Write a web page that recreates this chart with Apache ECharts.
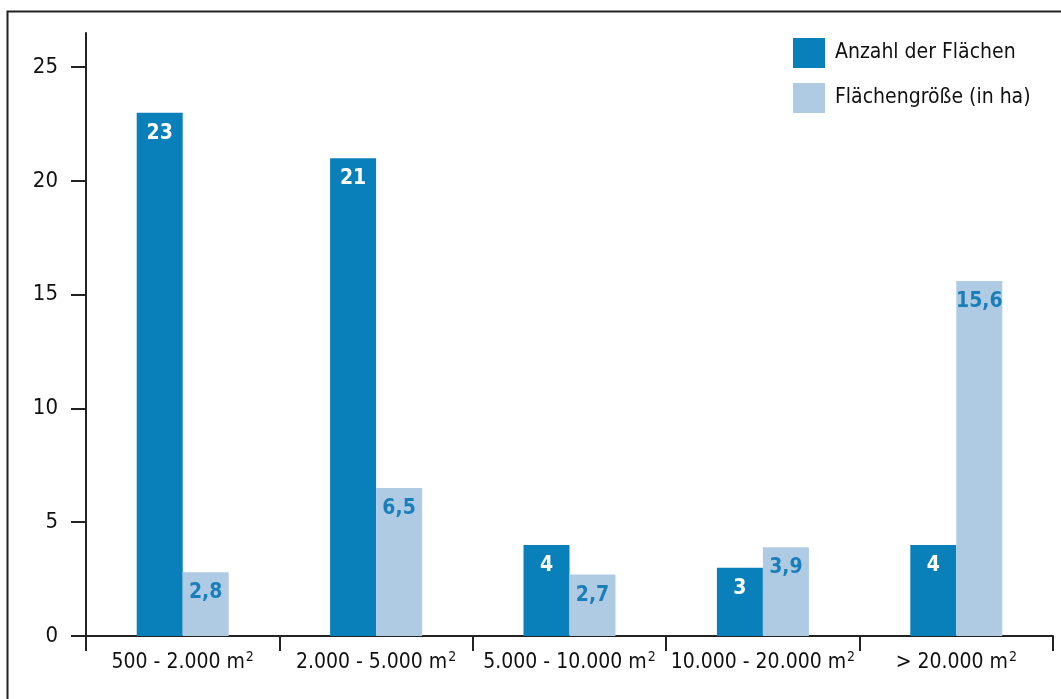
<!DOCTYPE html>
<html>
<head>
    <meta charset="utf-8">
    <script src="https://cdn.jsdelivr.net/npm/echarts@6/dist/echarts.min.js"></script>
</head>
<body style="margin:0;background:#fff;">
    <div id="container" style="width:1061px;height:699px;"></div>
    <script type="text/javascript">
        // Größenklassen der Flächen
        var categories = ['500 - 2.000 m', '2.000 - 5.000 m', '5.000 - 10.000 m', '10.000 - 20.000 m', '> 20.000 m'];
        var anzahl = [23, 21, 4, 3, 4];
        var groesse = [2.8, 6.5, 2.7, 3.9, 15.6];
        var yTicks = [0, 5, 10, 15, 20, 25];

        var font = '"Liberation Sans Narrow", "DejaVu Sans Condensed", sans-serif';
        var dark = '#0A80BB';
        var light = '#AFCBE3';

        var myChart = echarts.init(document.getElementById('container'));
        var option = {
            animation: false,
            graphic: [{
                type: 'rect',
                shape: { x: 7.5, y: 11.5, width: 1100, height: 720 },
                style: { fill: 'none', stroke: '#222', lineWidth: 2 }
            }],
            legend: {
                orient: 'vertical',
                left: 788,
                top: 33,
                icon: 'rect',
                itemWidth: 32,
                itemHeight: 30,
                itemGap: 15,
                textStyle: { fontFamily: font, fontSize: 21, color: '#111', padding: [0, 0, 0, 5] },
                data: ['Anzahl der Flächen', 'Flächengröße (in ha)']
            },
            grid: { left: 86, right: 8, top: 33, bottom: 63 },
            xAxis: {
                type: 'category',
                data: categories,
                axisLine: { lineStyle: { color: '#222', width: 2 } },
                axisTick: { show: true, interval: 0, length: 15, lineStyle: { color: '#222', width: 2 } },
                axisLabel: {
                    interval: 0,
                    margin: 14,
                    formatter: function (v) { return '{a|' + v + '}{sup|2}'; },
                    rich: {
                        a: { fontFamily: font, fontSize: 21, color: '#111' },
                        sup: { fontFamily: font, fontSize: 14, color: '#111', padding: [0, 0, 12, 1] }
                    }
                }
            },
            yAxis: {
                type: 'value',
                min: 0,
                max: 26.5,
                interval: 5,
                splitLine: { show: false },
                axisLine: { show: true, lineStyle: { color: '#222', width: 2 } },
                axisTick: { show: true, length: 15, customValues: yTicks, lineStyle: { color: '#222', width: 2 } },
                axisLabel: {
                    customValues: yTicks,
                    margin: 28,
                    fontFamily: font,
                    fontSize: 22,
                    color: '#111'
                }
            },
            series: [{
                name: 'Anzahl der Flächen',
                type: 'bar',
                barWidth: 46,
                barGap: '0%',
                itemStyle: { color: dark },
                label: {
                    show: true,
                    position: 'insideTop',
                    distance: 10,
                    fontFamily: font,
                    fontWeight: 'bold',
                    fontSize: 21,
                    color: '#fff'
                },
                data: anzahl
            }, {
                name: 'Flächengröße (in ha)',
                type: 'bar',
                barWidth: 46,
                itemStyle: { color: light },
                label: {
                    show: true,
                    position: 'insideTop',
                    distance: 10,
                    fontFamily: font,
                    fontWeight: 'bold',
                    fontSize: 21,
                    color: '#1A7FB9',
                    formatter: function (p) { return String(p.value).replace('.', ','); }
                },
                data: groesse
            }]
        };
        myChart.setOption(option);
    </script>
</body>
</html>
